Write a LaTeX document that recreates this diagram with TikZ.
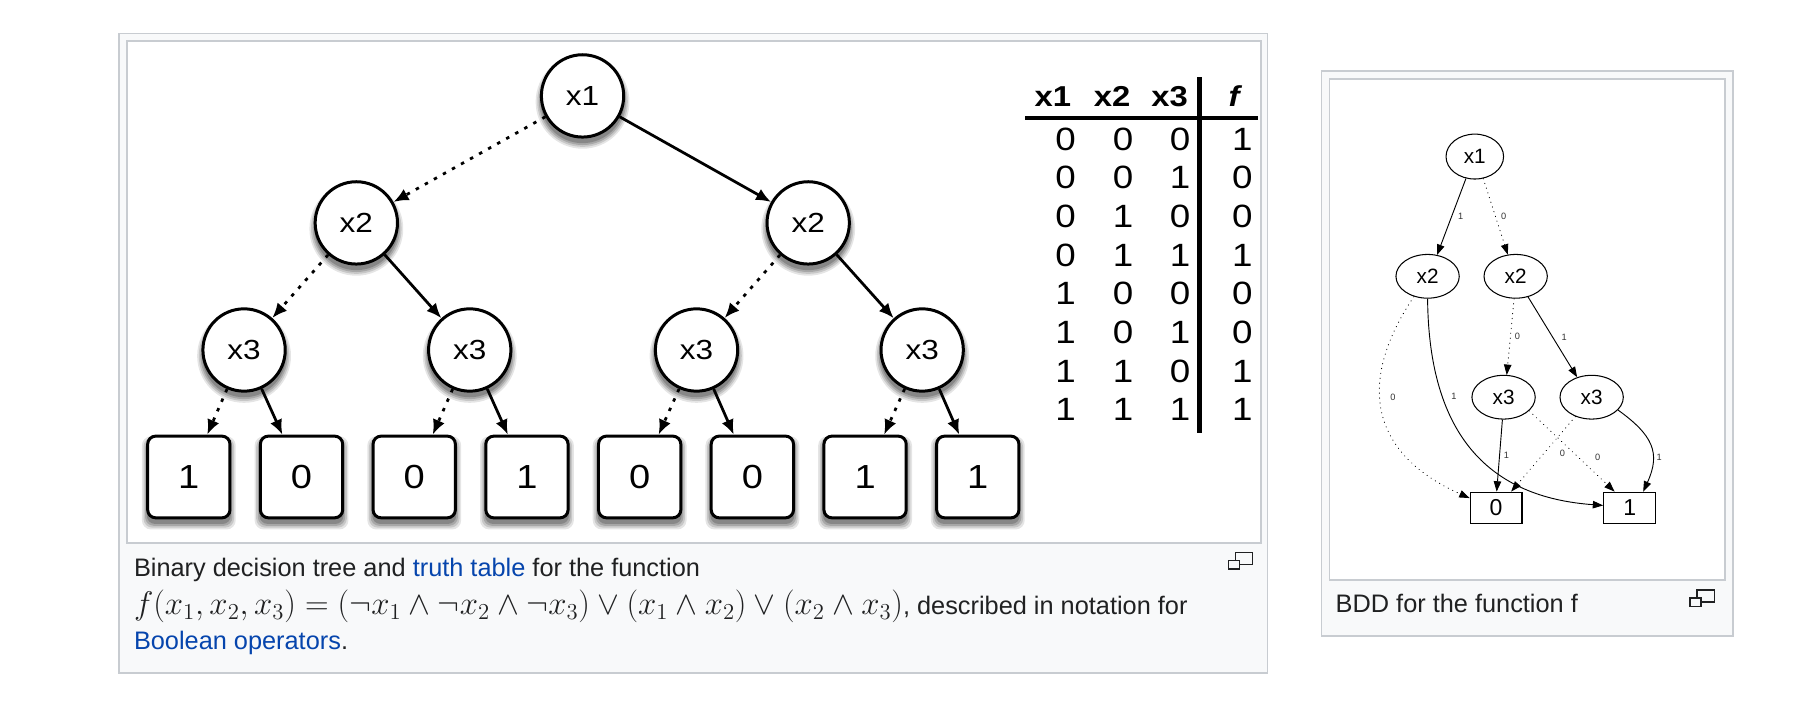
\documentclass[tikz,border=0pt]{standalone}
\usepackage[no-math]{fontspec}
\setmainfont{Liberation Sans}
\newfontfamily\widesans[FakeStretch=1.14]{Liberation Sans}
\usepackage{graphicx}
\usetikzlibrary{arrows.meta,shapes.geometric,shadows}
\definecolor{frame}{HTML}{C8CCD1}
\definecolor{capbg}{HTML}{F8F9FA}
\definecolor{txt}{HTML}{202122}
\definecolor{link}{HTML}{0645AD}
\pgfdeclarelayer{bgzero}
\pgfdeclarelayer{bgone}
\pgfsetlayers{bgzero,bgone,main}
\tikzset{
  panel/.style={draw=frame, fill=capbg, line width=1.5pt},
  imgframe/.style={draw=frame, fill=white, line width=1.5pt},
  icon/.style={draw=txt, line width=1.3pt},
  captext/.style={font=\fontsize{22}{26}\selectfont, text=txt, inner sep=0pt},
  tshadow/.style={
    general shadow={fill=black, opacity=0.10, shadow scale=1.14, shadow yshift=-4.5pt},
    general shadow={fill=black, opacity=0.13, shadow scale=1.10, shadow yshift=-4.5pt},
    general shadow={fill=black, opacity=0.16, shadow scale=1.06, shadow yshift=-4.5pt},
    general shadow={fill=black, opacity=0.19, shadow scale=1.02, shadow yshift=-4.5pt}},
  tnode/.style={circle, draw, line width=2.6pt, fill=white, minimum size=71.5pt, inner sep=0pt, font=\widesans\fontsize{24}{24}\selectfont, tshadow},
  tleaf/.style={rectangle, rounded corners=7pt, draw, line width=2.6pt, fill=white, minimum width=71.5pt, minimum height=71pt, inner sep=0pt, font=\widesans\fontsize{29}{29}\selectfont, tshadow},
  thigh/.style={line width=2.4pt, -{Latex[length=13pt,width=11pt]}},
  tlow/.style={thigh, dash pattern=on 3pt off 6pt},
  hdr/.style={font=\widesans\bfseries\fontsize{25}{25}\selectfont, inner sep=0pt, anchor=base},
  tdig/.style={font=\widesans\fontsize{28}{28}\selectfont, inner sep=0pt, anchor=base},
  bnode/.style={ellipse, draw, line width=0.9pt, fill=white, minimum width=55pt, minimum height=38pt, inner sep=0pt, font=\fontsize{18}{18}\selectfont},
  bleaf/.style={rectangle, draw, line width=1pt, fill=white, minimum width=45pt, minimum height=27pt, inner sep=0pt, font=\fontsize{20}{20}\selectfont},
  bhigh/.style={line width=0.8pt, -{Triangle[length=9pt,width=6.5pt]}},
  blow/.style={bhigh, line cap=round, dash pattern=on 0.3pt off 4pt},
  elab/.style={font=\fontsize{8}{8}\selectfont, inner sep=0pt, text=black!80},
}
\begin{document}
\begin{tikzpicture}[x=1pt,y=-1pt]
\useasboundingbox (0,0) rectangle (1560,609.75);

% ---------- frames ----------
\begin{pgfonlayer}{bgzero}
\fill[white] (0,0) rectangle (1560,609.75);
\draw[panel] (103.4,29) rectangle (1101,584.5);
\draw[imgframe] (110.4,35.6) rectangle (1095,471.6);
\draw[panel] (1147.8,61.4) rectangle (1505,552.7);
\draw[imgframe] (1154.7,68.4) rectangle (1498,504);
\draw[icon] (1073,480) rectangle (1088,490.4);
\draw[icon, fill=capbg] (1067,486.7) rectangle (1076.5,494.4);
\draw[icon] (1474,512.6) rectangle (1489,523);
\draw[icon, fill=capbg] (1468,519.3) rectangle (1477.5,527);
\end{pgfonlayer}

% ---------- decision tree ----------
\node[tnode] (t1) at (506,83.3) {x1};
\node[tnode] (t2a) at (309.5,193.6) {x2};
\node[tnode] (t2b) at (702,193.6) {x2};
\node[tnode] (t3a) at (212,304) {x3};
\node[tnode] (t3b) at (408,304) {x3};
\node[tnode] (t3c) at (605,304) {x3};
\node[tnode] (t3d) at (801,304) {x3};
\foreach \v [count=\i from 0] in {1,0,0,1,0,0,1,1}
  \node[tleaf] (l\i) at ({164+97.9*\i},414.3) {\v};

\begin{pgfonlayer}{bgone}
\draw[tlow] (t1) -- (t2a);
\draw[thigh] (t1) -- (t2b);
\draw[tlow] (t2a) -- (t3a);
\draw[thigh] (t2a) -- (t3b);
\draw[tlow] (t2b) -- (t3c);
\draw[thigh] (t2b) -- (t3d);
\draw[tlow] (t3a) -- (l0);
\draw[thigh] (t3a) -- (l1);
\draw[tlow] (t3b) -- (l2);
\draw[thigh] (t3b) -- (l3);
\draw[tlow] (t3c) -- (l4);
\draw[thigh] (t3c) -- (l5);
\draw[tlow] (t3d) -- (l6);
\draw[thigh] (t3d) -- (l7);
\end{pgfonlayer}

% ---------- truth table ----------
\node[hdr] (h1) at (914.5,92.5) {x1};
\node[hdr] (h2) at (966,92.5) {x2};
\node[hdr] (h3) at (1016,92.5) {x3};
\node[hdr] (h4) at (1072,92.5) {\itshape f};
\draw[line width=4pt] (890.7,102.5) -- (1093,102.5);
\draw[line width=3.8pt] (1041.8,67.2) -- (1041.8,376);
\foreach \a/\b/\c/\f [count=\i from 0] in {0/0/0/1,0/0/1/0,0/1/0/0,0/1/1/1,1/0/0/0,1/0/1/0,1/1/0/1,1/1/1/1} {
  \node[tdig] (ra\i) at (925.5,{130.4+33.6*\i}) {\a};
  \node[tdig] (rb\i) at (975.5,{130.4+33.6*\i}) {\b};
  \node[tdig] (rc\i) at (1025,{130.4+33.6*\i}) {\c};
  \node[tdig] (rf\i) at (1079,{130.4+33.6*\i}) {\f};
}

% ---------- left caption ----------
\node[captext, anchor=base west] (c1) at (116.2,500.5) {Binary decision tree and \textcolor{link}{truth table} for the function};
\node[captext, anchor=base west] (c2) at (116.2,533.9) {\resizebox{668pt}{!}{$f(x_1,x_2,x_3)=(\neg x_1\wedge\neg x_2\wedge\neg x_3)\vee(x_1\wedge x_2)\vee(x_2\wedge x_3)$}, described in notation for};
\node[captext, anchor=base west] (c3) at (116.2,564.3) {\textcolor{link}{Boolean operators}.};

% ---------- BDD ----------
\node[bnode, minimum width=50pt, minimum height=39pt] (b1) at (1281,136) {x1};
\node[bnode] (b2l) at (1240,240) {x2};
\node[bnode] (b2r) at (1316.5,240) {x2};
\node[bnode] (b3l) at (1306,345) {x3};
\node[bnode] (b3r) at (1382.5,345) {x3};
\node[bleaf] (b0) at (1299.5,441) {0};
\node[bleaf] (bT) at (1415.5,441) {1};

\begin{pgfonlayer}{bgone}
\draw[bhigh] (b1.248) -- node[elab, xshift=8pt] {1} (b2l.66);
\draw[blow] (b1.291) -- node[elab, xshift=7pt] {0} (b2r.110);
\draw[blow] (b2l.236) .. controls (1176.3,334.6) and (1192.6,395.4) .. node[elab, pos=0.42, xshift=11pt] {0} (b0.160);
\draw[bhigh] (b2l.270) .. controls (1241,380) and (1295,432) .. node[elab, pos=0.277, xshift=10pt] {1} (bT.175);
\draw[blow] (b2r.266) -- node[elab, xshift=6pt] {0} (b3l.82);
\draw[bhigh] (b2r.301) -- node[elab, xshift=10pt] {1} (b3r.126);
\draw[bhigh] (b3l.267) -- node[elab, xshift=6pt] {1} (b0.88);
\draw[blow] (b3l.332) -- node[elab, pos=0.573, xshift=17pt] {0} (bT.133);
\draw[blow] (b3r.230) -- node[elab, pos=0.49, xshift=16pt] {0} (b0.47);
\draw[bhigh] (b3r.334) .. controls (1435.6,377.9) and (1442.7,393.4) .. node[elab, pos=0.65, xshift=6pt] {1} (bT.50);
\end{pgfonlayer}

\node[captext, anchor=base west] (c4) at (1160,532.4) {BDD for the function f};
\end{tikzpicture}
\end{document}
